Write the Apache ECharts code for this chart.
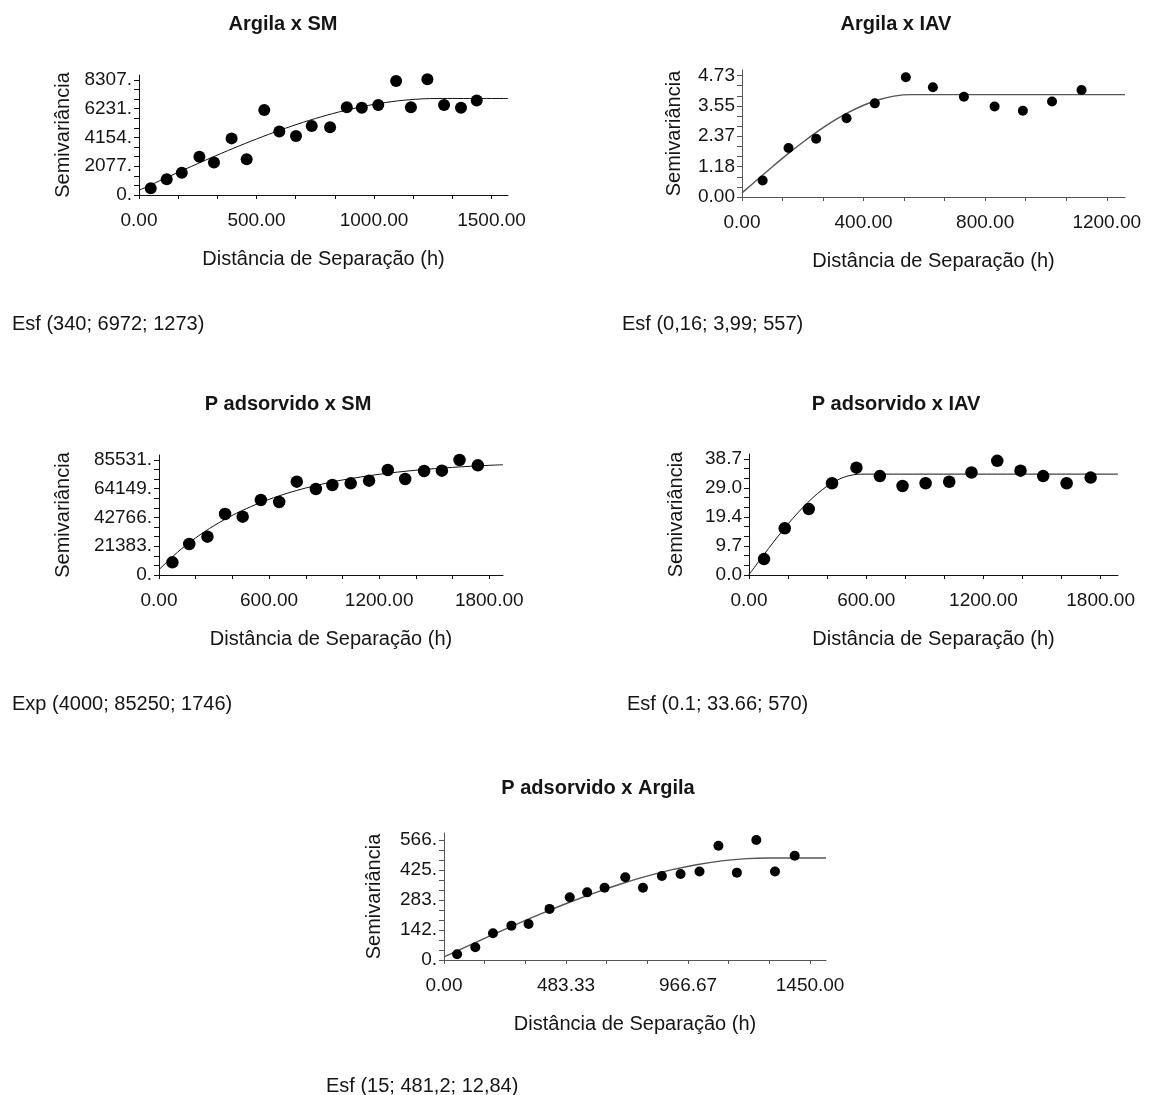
<!DOCTYPE html>
<html>
<head>
<meta charset="utf-8">
<script src="https://cdn.jsdelivr.net/npm/echarts@6/dist/echarts.min.js"></script>
<style>
  html, body { margin: 0; padding: 0; background: #ffffff; }
  #chart { width: 1154px; height: 1095px; }
</style>
</head>
<body>
<div id="chart"></div>
<script>
// ---- Argila x SM ----
const distArgilaSM  = [50, 118, 182, 257, 319, 394, 458, 533, 597, 668, 735, 813, 884, 948, 1018, 1094, 1157, 1227, 1298, 1370, 1437];
const semivArgilaSM = [480, 1130, 1610, 2770, 2340, 4090, 2580, 6140, 4580, 4260, 4990, 4890, 6330, 6310, 6500, 8240, 6330, 8360, 6500, 6310, 6820];
const modelDistArgilaSM  = [0, 100, 200, 300, 400, 500, 600, 700, 800, 900, 1000, 1100, 1200, 1273, 1570];
const modelSemivArgilaSM = [340, 1120, 1890, 2641, 3363, 4046, 4682, 5259, 5769, 6201, 6547, 6797, 6940, 6972, 6972];
const xLabelsArgilaSM = ['0.00', '500.00', '1000.00', '1500.00'];
const yLabelsArgilaSM = ['0.', '2077.', '4154.', '6231.', '8307.'];

// ---- Argila x IAV ----
const distArgilaIAV  = [68, 153, 244, 344, 437, 539, 628, 730, 831, 924, 1020, 1117];
const semivArgilaIAV = [0.64, 1.91, 2.27, 3.07, 3.65, 4.67, 4.28, 3.91, 3.53, 3.36, 3.72, 4.17];
const modelDistArgilaIAV  = [0, 50, 100, 150, 200, 250, 300, 350, 400, 450, 500, 557, 1260];
const modelSemivArgilaIAV = [0.16, 0.674, 1.180, 1.670, 2.134, 2.565, 2.955, 3.295, 3.576, 3.792, 3.932, 3.99, 3.99];
const xLabelsArgilaIAV = ['0.00', '400.00', '800.00', '1200.00'];
const yLabelsArgilaIAV = ['0.00', '1.18', '2.37', '3.55', '4.73'];

// ---- P adsorvido x SM ----
const distPadsSM  = [73, 165, 264, 360, 456, 555, 655, 751, 855, 945, 1045, 1145, 1247, 1342, 1445, 1542, 1638, 1738];
const semivPadsSM = [9420, 23060, 28510, 45370, 43380, 55780, 54290, 69410, 63960, 66930, 68170, 70160, 78090, 71400, 77350, 77590, 85530, 81560];
const modelDistPadsSM  = [0, 100, 200, 300, 400, 500, 600, 700, 800, 900, 1000, 1200, 1400, 1600, 1800, 1875];
const modelSemivPadsSM = [4000, 16827, 27629, 36725, 44386, 50837, 56270, 60845, 64698, 67942, 70675, 74913, 77920, 80052, 81563, 82000];
const xLabelsPadsSM = ['0.00', '600.00', '1200.00', '1800.00'];
const yLabelsPadsSM = ['0.', '21383.', '42766.', '64149.', '85531.'];

// ---- P adsorvido x IAV ----
const distPadsIAV  = [77, 183, 306, 425, 550, 670, 786, 904, 1025, 1139, 1271, 1390, 1506, 1626, 1749];
const semivPadsIAV = [5.3, 15.6, 22.0, 30.6, 35.8, 33.0, 29.7, 30.6, 31.1, 34.2, 38.1, 34.8, 33.0, 30.6, 32.5];
const modelDistPadsIAV  = [0, 50, 100, 150, 200, 250, 300, 350, 400, 450, 500, 570, 1889];
const modelSemivPadsIAV = [0.1, 4.50, 8.84, 13.04, 17.04, 20.76, 24.15, 27.13, 29.63, 31.59, 32.93, 33.66, 33.66];
const xLabelsPadsIAV = ['0.00', '600.00', '1200.00', '1800.00'];
const yLabelsPadsIAV = ['0.0', '9.7', '19.4', '29.0', '38.7'];

// ---- P adsorvido x Argila ----
const distPadsArg  = [52, 124, 194, 267, 335, 418, 498, 567, 636, 718, 788, 863, 937, 1012, 1087, 1160, 1237, 1311, 1389];
const semivPadsArg = [27, 60, 126, 162, 170, 241, 296, 319, 341, 390, 341, 396, 406, 417, 539, 412, 566, 417, 492];
const modelDistPadsArg  = [0, 100, 200, 300, 400, 500, 600, 700, 800, 900, 1000, 1100, 1200, 1284, 1513];
const modelSemivPadsArg = [15, 69.4, 123.0, 175.4, 225.8, 273.6, 318.0, 358.5, 394.3, 424.9, 449.5, 467.5, 478.3, 481.2, 481.2];
const xLabelsPadsArg = ['0.00', '483.33', '966.67', '1450.00'];
const yLabelsPadsArg = ['0.', '142.', '283.', '425.', '566.'];

// Panel titles and fitted-model notes
const panelTitles = ['Argila x SM', 'Argila x IAV', 'P adsorvido x SM', 'P adsorvido x IAV', 'P adsorvido x Argila'];
const modelNotes  = ['Esf (340; 6972; 1273)', 'Esf (0,16; 3,99; 557)', 'Exp (4000; 85250; 1746)', 'Esf (0.1; 33.66; 570)', 'Esf (15; 481,2; 12,84)'];

const FONT = '"Liberation Sans", Arial, Helvetica, sans-serif';
const INK = '#151515';

// Layout of each panel (plot box, axis extents, marker size, caption spots)
const panels = [
  { dist: distArgilaSM, semiv: semivArgilaSM, mDist: modelDistArgilaSM, mSemiv: modelSemivArgilaSM,
    xLabels: xLabelsArgilaSM, yLabels: yLabelsArgilaSM,
    grid: { left: 139, top: 75, width: 369, height: 120 }, xMax: 1570, yMax: 8668,
    dot: 12, line: { color: '#111', width: 1 }, yGap: 66,
    title: { x: 283, y: 14 }, note: { x: 12, y: 314 } },
  { dist: distArgilaIAV, semiv: semivArgilaIAV, mDist: modelDistArgilaIAV, mSemiv: modelSemivArgilaIAV,
    xLabels: xLabelsArgilaIAV, yLabels: yLabelsArgilaIAV,
    grid: { left: 742, top: 70, width: 383, height: 127 }, xMax: 1260, yMax: 4.95,
    dot: 10, line: { color: '#555', width: 1.4 }, yGap: 58,
    title: { x: 896, y: 14 }, note: { x: 622, y: 314 } },
  { dist: distPadsSM, semiv: semivPadsSM, mDist: modelDistPadsSM, mSemiv: modelSemivPadsSM,
    xLabels: xLabelsPadsSM, yLabels: yLabelsPadsSM,
    grid: { left: 159, top: 455, width: 344, height: 120 }, xMax: 1875, yMax: 89250,
    dot: 12.5, line: { color: '#111', width: 1 }, yGap: 86,
    title: { x: 288, y: 394 }, note: { x: 12, y: 694 } },
  { dist: distPadsIAV, semiv: semivPadsIAV, mDist: modelDistPadsIAV, mSemiv: modelSemivPadsIAV,
    xLabels: xLabelsPadsIAV, yLabels: yLabelsPadsIAV,
    grid: { left: 749, top: 454, width: 369, height: 121 }, xMax: 1889, yMax: 40.37,
    dot: 12.5, line: { color: '#111', width: 1 }, yGap: 63,
    title: { x: 896, y: 394 }, note: { x: 627, y: 694 } },
  { dist: distPadsArg, semiv: semivPadsArg, mDist: modelDistPadsArg, mSemiv: modelSemivPadsArg,
    xLabels: xLabelsPadsArg, yLabels: yLabelsPadsArg,
    grid: { left: 444, top: 833, width: 382, height: 127 }, xMax: 1513, yMax: 599,
    dot: 10, line: { color: '#555', width: 1.4 }, yGap: 60,
    title: { x: 598, y: 778 }, note: { x: 326, y: 1076 } }
];

// Major tick positions plus two minor ticks inside each interval
function withMinor(values, parts) {
  const out = [];
  for (let i = 0; i < values.length; i++) {
    out.push(values[i]);
    if (i < values.length - 1) {
      for (let k = 1; k < parts; k++) out.push(values[i] + (values[i + 1] - values[i]) * k / parts);
    }
  }
  return out;
}

function labelFor(labels, values) {
  return function (v) {
    let best = 0;
    for (let i = 1; i < values.length; i++) {
      if (Math.abs(values[i] - v) < Math.abs(values[best] - v)) best = i;
    }
    return labels[best];
  };
}

const grids = [], xAxes = [], yAxes = [], series = [], titles = [];

panels.forEach((p, i) => {
  const xVals = p.xLabels.map(parseFloat);
  const yVals = p.yLabels.map(parseFloat);
  const axisColor = p.line.color;

  grids.push(Object.assign({ containLabel: false }, p.grid));

  xAxes.push({
    type: 'value', gridIndex: i, min: 0, max: p.xMax,
    axisLine: { show: true, onZero: false, lineStyle: { color: axisColor, width: 1 } },
    axisTick: { show: true, length: 4, customValues: withMinor(xVals, 3), lineStyle: { color: axisColor, width: 1 } },
    axisLabel: { customValues: xVals, formatter: labelFor(p.xLabels, xVals), margin: 16,
                 fontSize: 19, fontFamily: FONT, color: INK },
    splitLine: { show: false },
    name: 'Distância de Separação (h)', nameLocation: 'middle', nameGap: 54,
    nameTextStyle: { fontSize: 20, fontFamily: FONT, color: INK }
  });

  yAxes.push({
    type: 'value', gridIndex: i, min: 0, max: p.yMax,
    axisLine: { show: true, onZero: false, lineStyle: { color: axisColor, width: 1 } },
    axisTick: { show: true, length: 5, customValues: withMinor(yVals, 3), lineStyle: { color: axisColor, width: 1 } },
    axisLabel: { customValues: yVals, formatter: labelFor(p.yLabels, yVals), margin: 7,
                 fontSize: 19, fontFamily: FONT, color: INK },
    splitLine: { show: false },
    name: 'Semivariância', nameLocation: 'middle', nameRotate: 90, nameGap: p.yGap,
    nameTextStyle: { fontSize: 20, fontFamily: FONT, color: INK }
  });

  series.push({
    type: 'line', xAxisIndex: i, yAxisIndex: i,
    data: p.mDist.map((d, k) => [d, p.mSemiv[k]]),
    showSymbol: false, symbol: 'none', smooth: 0.3,
    lineStyle: { color: p.line.color, width: p.line.width },
    silent: true, z: 2
  });

  series.push({
    type: 'scatter', xAxisIndex: i, yAxisIndex: i,
    data: p.dist.map((d, k) => [d, p.semiv[k]]),
    symbol: 'circle', symbolSize: p.dot,
    itemStyle: { color: '#000', opacity: 1 },
    silent: true, z: 3
  });

  titles.push({
    text: panelTitles[i], left: p.title.x, top: p.title.y, textAlign: 'center', padding: 0,
    textStyle: { fontSize: 20, fontWeight: 'bold', fontFamily: FONT, color: INK }
  });
  titles.push({
    text: modelNotes[i], left: p.note.x, top: p.note.y, padding: 0,
    textStyle: { fontSize: 20, fontWeight: 'normal', fontFamily: FONT, color: INK }
  });
});

const chart = echarts.init(document.getElementById('chart'), null, { renderer: 'canvas' });
chart.setOption({
  backgroundColor: '#ffffff',
  animation: false,
  title: titles,
  grid: grids,
  xAxis: xAxes,
  yAxis: yAxes,
  series: series
});
</script>
</body>
</html>
